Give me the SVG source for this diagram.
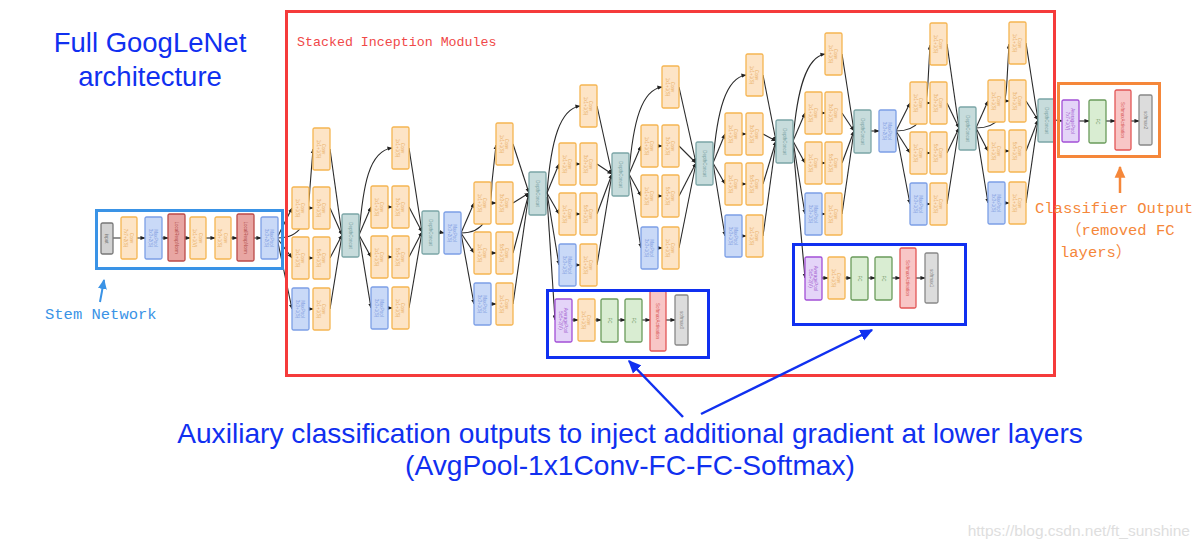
<svg xmlns="http://www.w3.org/2000/svg" xmlns:xlink="http://www.w3.org/1999/xlink" width="1200" height="550" viewBox="0 0 1200 550">
<style>
.conv{fill:#fde4c6;stroke:#f5b552;stroke-width:1.3}
.mp{fill:#c9d9f7;stroke:#7c9fe6;stroke-width:1.3}
.dc{fill:#c7dcdc;stroke:#7ba5a6;stroke-width:1.3}
.lrn{fill:#e8a6a3;stroke:#bb4a48;stroke-width:1.3}
.inp{fill:#d2d2d2;stroke:#777;stroke-width:1.3}
.avg{fill:#e4d4f8;stroke:#a24fd6;stroke-width:1.3}
.fc{fill:#d9edd2;stroke:#6a9b5b;stroke-width:1.3}
.sma{fill:#f8c6c6;stroke:#e25656;stroke-width:1.3}
.sm{fill:#dcdcdc;stroke:#888;stroke-width:1.3}
.nt{font-family:'Liberation Sans',Arial,sans-serif;font-size:4.5px;text-anchor:middle;opacity:.85}
.tconv{fill:#e5a24a}.tmp{fill:#6f90dc}.tdc{fill:#6c9899}.tlrn{fill:#a83c3a}.tinp{fill:#666}
.tavg{fill:#9344c8}.tfc{fill:#5d8c4f}.tsma{fill:#d44848}.tsm{fill:#777}
.big{font-family:'Liberation Sans',Arial,sans-serif;fill:#1030f0}
.mono{font-family:'Liberation Mono','Noto Sans CJK SC',monospace}
</style>
<defs>
<marker id="ah" viewBox="0 0 6 6" refX="5.5" refY="3" markerWidth="5" markerHeight="5" markerUnits="userSpaceOnUse" orient="auto"><path d="M0,0.5 L6,3 L0,5.5z" fill="#222"/></marker>
<marker id="ahb" viewBox="0 0 10 10" refX="9" refY="5" markerWidth="13" markerHeight="13" markerUnits="userSpaceOnUse" orient="auto"><path d="M0,0.5 L10,5 L0,9.5z" fill="#1030f0"/></marker>
<marker id="ahl" viewBox="0 0 10 10" refX="9" refY="5" markerWidth="10" markerHeight="10" markerUnits="userSpaceOnUse" orient="auto"><path d="M0,0.5 L10,5 L0,9.5z" fill="#3a93e6"/></marker>
<marker id="aho" viewBox="0 0 10 10" refX="9" refY="5" markerWidth="12" markerHeight="12" markerUnits="userSpaceOnUse" orient="auto"><path d="M0,0.5 L10,5 L0,9.5z" fill="#f5873a"/></marker>
<g id="c11"><rect class="conv" width="17" height="42" rx="1.5"/><text class="nt tconv" transform="translate(8.5,21) rotate(90)"><tspan x="0" y="-0.6">Conv</tspan><tspan x="0" y="4.6">1x1+1(S)</tspan></text></g>
<g id="c33"><rect class="conv" width="17" height="42" rx="1.5"/><text class="nt tconv" transform="translate(8.5,21) rotate(90)"><tspan x="0" y="-0.6">Conv</tspan><tspan x="0" y="4.6">3x3+1(S)</tspan></text></g>
<g id="c55"><rect class="conv" width="17" height="42" rx="1.5"/><text class="nt tconv" transform="translate(8.5,21) rotate(90)"><tspan x="0" y="-0.6">Conv</tspan><tspan x="0" y="4.6">5x5+1(S)</tspan></text></g>
<g id="c77"><rect class="conv" width="16" height="42" rx="1.5"/><text class="nt tconv" transform="translate(8,21) rotate(90)"><tspan x="0" y="-0.6">Conv</tspan><tspan x="0" y="4.6">7x7+2(S)</tspan></text></g>
<g id="c11v"><rect class="conv" width="16" height="42" rx="1.5"/><text class="nt tconv" transform="translate(8,21) rotate(90)"><tspan x="0" y="-0.6">Conv</tspan><tspan x="0" y="4.6">1x1+1(V)</tspan></text></g>
<g id="c33s"><rect class="conv" width="16" height="42" rx="1.5"/><text class="nt tconv" transform="translate(8,21) rotate(90)"><tspan x="0" y="-0.6">Conv</tspan><tspan x="0" y="4.6">3x3+1(S)</tspan></text></g>
<g id="mp1"><rect class="mp" width="17" height="42" rx="1.5"/><text class="nt tmp" transform="translate(8.5,21) rotate(90)"><tspan x="0" y="-0.6">MaxPool</tspan><tspan x="0" y="4.6">3x3+1(S)</tspan></text></g>
<g id="mp2"><rect class="mp" width="17" height="42" rx="1.5"/><text class="nt tmp" transform="translate(8.5,21) rotate(90)"><tspan x="0" y="-0.6">MaxPool</tspan><tspan x="0" y="4.6">3x3+2(S)</tspan></text></g>
<g id="dcn"><rect class="dc" width="17" height="43" rx="1.5"/><text class="nt tdc" transform="translate(8.5,21.5) rotate(90)" y="1.6">DepthConcat</text></g>
<g id="inp"><rect class="inp" width="12" height="31" rx="1.5"/><text class="nt tinp" transform="translate(6,15.5) rotate(90)" y="1.6">input</text></g>
<g id="lrn"><rect class="lrn" width="17" height="47" rx="1.5"/><text class="nt tlrn" transform="translate(8.5,23.5) rotate(90)" y="1.6">LocalRespNorm</text></g>
<g id="av5"><rect class="avg" width="17" height="43" rx="1.5"/><text class="nt tavg" transform="translate(8.5,21.5) rotate(90)"><tspan x="0" y="-0.6">AveragePool</tspan><tspan x="0" y="4.6">5x5+3(V)</tspan></text></g>
<g id="av7"><rect class="avg" width="17" height="42" rx="1.5"/><text class="nt tavg" transform="translate(8.5,21) rotate(90)"><tspan x="0" y="-0.6">AveragePool</tspan><tspan x="0" y="4.6">7x7+1(V)</tspan></text></g>
<g id="fc"><rect class="fc" width="17" height="43" rx="1.5"/><text class="nt tfc" transform="translate(8.5,21.5) rotate(90)" y="1.6">FC</text></g>
<g id="sma"><rect class="sma" width="16" height="60" rx="1.5"/><text class="nt tsma" transform="translate(8,30) rotate(90)" y="1.6">SoftmaxActivation</text></g>
<g id="sm0"><rect class="sm" width="13" height="50" rx="1.5"/><text class="nt tsm" transform="translate(6.5,25) rotate(90)" y="1.6">softmax0</text></g>
<g id="sm1"><rect class="sm" width="13" height="50" rx="1.5"/><text class="nt tsm" transform="translate(6.5,25) rotate(90)" y="1.6">softmax1</text></g>
<g id="sm2"><rect class="sm" width="13" height="50" rx="1.5"/><text class="nt tsm" transform="translate(6.5,25) rotate(90)" y="1.6">softmax2</text></g>
</defs>
<rect width="1200" height="550" fill="#ffffff"/>

<g id="connectors" fill="none" stroke="#2a2a2a" stroke-width="1.1" marker-end="url(#ah)">
<path d="M113,238 L121,238 M137,238 L145,238"/>
<path d="M161,238 L168,238"/><path d="M185,238 L190,238"/><path d="M206,238 L215,238"/><path d="M231,238 L237,238"/><path d="M254,238 L261,238"/>
<path d="M277,238 L292,208"/><path d="M277,238 L292,258"/><path d="M277,238 L292,309"/>
<path d="M277,238 C300,238 308,225 310,187 L313,149"/>
<path d="M309,208 L313,208"/><path d="M309,258 L313,258"/><path d="M309,309 L313,309"/>
<path d="M330,149 L342,235"/><path d="M330,208 L342,235"/><path d="M330,258 L342,235"/><path d="M330,309 L342,235"/>
<path d="M359,235 C363,185 369,151 392,148"/>
<path d="M359,235 L371,207"/><path d="M359,235 L371,257"/><path d="M359,235 L371,308"/>
<path d="M388,207 L392,207"/><path d="M388,257 L392,257"/><path d="M388,308 L392,308"/>
<path d="M409,148 L422,232"/><path d="M409,207 L422,232"/><path d="M409,257 L422,232"/><path d="M409,308 L422,232"/>
<path d="M439,232 L444,233"/>
<path d="M461,233 L474,203"/><path d="M461,233 L474,253"/><path d="M461,233 L474,304"/>
<path d="M461,233 C483,233 491,220 492,182 L496,145"/>
<path d="M491,203 L496,203"/><path d="M491,253 L496,253"/><path d="M491,304 L496,304"/>
<path d="M513,144 L529,193"/><path d="M513,203 L529,193"/><path d="M513,253 L529,193"/><path d="M513,304 L529,193"/>
<path d="M547,193 C551,140 560,109 580,106"/>
<path d="M547,193 L559,164"/><path d="M547,193 L559,214"/><path d="M547,193 L559,265"/>
<path d="M576,164 L580,164"/><path d="M576,214 L580,214"/><path d="M576,265 L580,265"/>
<path d="M597,106 L612,174"/><path d="M597,164 L612,174"/><path d="M597,214 L612,174"/><path d="M597,265 L612,174"/>
<path d="M547,197 L555,320"/>
<path d="M629,174 C633,120 642,90 662,87"/>
<path d="M629,174 L641,146"/><path d="M629,174 L641,196"/><path d="M629,174 L641,248"/>
<path d="M658,146 L662,146"/><path d="M658,196 L662,196"/><path d="M658,248 L662,248"/>
<path d="M679,87 L696,163"/><path d="M679,146 L696,163"/><path d="M679,196 L696,163"/><path d="M679,248 L696,163"/>
<path d="M713,163 C717,110 726,78 746,75"/>
<path d="M713,163 L725,134"/><path d="M713,163 L725,184"/><path d="M713,163 L725,236"/>
<path d="M742,134 L746,134"/><path d="M742,184 L746,184"/><path d="M742,236 L746,236"/>
<path d="M763,75 L776,141"/><path d="M763,134 L776,141"/><path d="M763,184 L776,141"/><path d="M763,236 L776,141"/>
<path d="M793,141 C797,90 806,57 825,54"/>
<path d="M793,141 L805,113"/><path d="M793,141 L805,163"/><path d="M793,141 L805,214"/>
<path d="M822,113 L825,113"/><path d="M822,163 L825,163"/><path d="M822,214 L825,214"/>
<path d="M842,54 L854,131"/><path d="M842,113 L854,131"/><path d="M842,163 L854,131"/><path d="M842,214 L854,131"/>
<path d="M793,145 L805,278"/>
<path d="M871,131 L879,131"/>
<path d="M896,131 L910,103"/><path d="M896,131 L910,153"/><path d="M896,131 L910,204"/>
<path d="M896,131 C918,131 926,120 928,82 L930,45"/>
<path d="M927,103 L930,103"/><path d="M927,153 L930,153"/><path d="M927,204 L930,204"/>
<path d="M947,44 L959,128"/><path d="M947,103 L959,128"/><path d="M947,153 L959,128"/><path d="M947,204 L959,128"/>
<path d="M976,128 L988,101"/><path d="M976,128 L988,151"/><path d="M976,128 L988,203"/>
<path d="M976,128 C998,128 1005,118 1007,80 L1009,44"/>
<path d="M1005,101 L1009,101"/><path d="M1005,151 L1009,151"/><path d="M1005,203 L1009,203"/>
<path d="M1026,43 L1038,120"/><path d="M1026,101 L1038,120"/><path d="M1026,151 L1038,120"/><path d="M1026,203 L1038,120"/>
<path d="M1055,120 L1062,121"/><path d="M1079,121 L1089,121"/><path d="M1106,121 L1115,121"/><path d="M1131,121 L1139,121"/>
<path d="M572,320 L578,320"/><path d="M595,320 L601,320"/><path d="M618,320 L625,320"/><path d="M642,320 L650,320"/><path d="M666,320 L675,320"/>
<path d="M822,278 L828,278"/><path d="M845,278 L851,278"/><path d="M868,278 L875,278"/><path d="M892,278 L900,278"/><path d="M916,278 L925,278"/>
</g>

<g id="stem-input" transform="translate(101,223)"><use href="#inp"/></g>
<g id="stem-conv1" transform="translate(121,217)"><use href="#c77"/></g>
<g id="stem-pool1" transform="translate(145,217)"><use href="#mp2"/></g>
<g id="stem-lrn1" transform="translate(168,214)"><use href="#lrn"/></g>
<g id="stem-conv2" transform="translate(190,217)"><use href="#c11v"/></g>
<g id="stem-conv3" transform="translate(215,217)"><use href="#c33s"/></g>
<g id="stem-lrn2" transform="translate(237,214)"><use href="#lrn"/></g>
<g id="stem-pool2" transform="translate(261,217)"><use href="#mp2"/></g>

<g id="m1-top" transform="translate(313,128)"><use href="#c11"/></g>
<g id="m1-a2" transform="translate(292,187)"><use href="#c11"/></g>
<g id="m1-b2" transform="translate(313,187)"><use href="#c33"/></g>
<g id="m1-a3" transform="translate(292,237)"><use href="#c11"/></g>
<g id="m1-b3" transform="translate(313,237)"><use href="#c55"/></g>
<g id="m1-a4" transform="translate(292,288)"><use href="#mp1"/></g>
<g id="m1-b4" transform="translate(313,288)"><use href="#c11"/></g>
<g id="m1-dc" transform="translate(342,214)"><use href="#dcn"/></g>

<g id="m2-top" transform="translate(392,127)"><use href="#c11"/></g>
<g id="m2-a2" transform="translate(371,186)"><use href="#c11"/></g>
<g id="m2-b2" transform="translate(392,186)"><use href="#c33"/></g>
<g id="m2-a3" transform="translate(371,236)"><use href="#c11"/></g>
<g id="m2-b3" transform="translate(392,236)"><use href="#c55"/></g>
<g id="m2-a4" transform="translate(371,287)"><use href="#mp1"/></g>
<g id="m2-b4" transform="translate(392,287)"><use href="#c11"/></g>
<g id="m2-dc" transform="translate(422,211)"><use href="#dcn"/></g>
<g id="pool3" transform="translate(444,212)"><use href="#mp2"/></g>

<g id="m3-top" transform="translate(496,123)"><use href="#c11"/></g>
<g id="m3-a2" transform="translate(474,182)"><use href="#c11"/></g>
<g id="m3-b2" transform="translate(496,182)"><use href="#c33"/></g>
<g id="m3-a3" transform="translate(474,232)"><use href="#c11"/></g>
<g id="m3-b3" transform="translate(496,232)"><use href="#c55"/></g>
<g id="m3-a4" transform="translate(474,283)"><use href="#mp1"/></g>
<g id="m3-b4" transform="translate(496,283)"><use href="#c11"/></g>
<g id="m3-dc" transform="translate(529,172)"><use href="#dcn"/></g>

<g id="m4-top" transform="translate(580,85)"><use href="#c11"/></g>
<g id="m4-a2" transform="translate(559,143)"><use href="#c11"/></g>
<g id="m4-b2" transform="translate(580,143)"><use href="#c33"/></g>
<g id="m4-a3" transform="translate(559,193)"><use href="#c11"/></g>
<g id="m4-b3" transform="translate(580,193)"><use href="#c55"/></g>
<g id="m4-a4" transform="translate(559,244)"><use href="#mp1"/></g>
<g id="m4-b4" transform="translate(580,244)"><use href="#c11"/></g>
<g id="m4-dc" transform="translate(612,153)"><use href="#dcn"/></g>

<g id="m5-top" transform="translate(662,66)"><use href="#c11"/></g>
<g id="m5-a2" transform="translate(641,125)"><use href="#c11"/></g>
<g id="m5-b2" transform="translate(662,125)"><use href="#c33"/></g>
<g id="m5-a3" transform="translate(641,175)"><use href="#c11"/></g>
<g id="m5-b3" transform="translate(662,175)"><use href="#c55"/></g>
<g id="m5-a4" transform="translate(641,227)"><use href="#mp1"/></g>
<g id="m5-b4" transform="translate(662,227)"><use href="#c11"/></g>
<g id="m5-dc" transform="translate(696,142)"><use href="#dcn"/></g>

<g id="m6-top" transform="translate(746,54)"><use href="#c11"/></g>
<g id="m6-a2" transform="translate(725,113)"><use href="#c11"/></g>
<g id="m6-b2" transform="translate(746,113)"><use href="#c33"/></g>
<g id="m6-a3" transform="translate(725,163)"><use href="#c11"/></g>
<g id="m6-b3" transform="translate(746,163)"><use href="#c55"/></g>
<g id="m6-a4" transform="translate(725,215)"><use href="#mp1"/></g>
<g id="m6-b4" transform="translate(746,215)"><use href="#c11"/></g>
<g id="m6-dc" transform="translate(776,120)"><use href="#dcn"/></g>

<g id="m7-top" transform="translate(825,33)"><use href="#c11"/></g>
<g id="m7-a2" transform="translate(805,92)"><use href="#c11"/></g>
<g id="m7-b2" transform="translate(825,92)"><use href="#c33"/></g>
<g id="m7-a3" transform="translate(805,142)"><use href="#c11"/></g>
<g id="m7-b3" transform="translate(825,142)"><use href="#c55"/></g>
<g id="m7-a4" transform="translate(805,193)"><use href="#mp1"/></g>
<g id="m7-b4" transform="translate(825,193)"><use href="#c11"/></g>
<g id="m7-dc" transform="translate(854,110)"><use href="#dcn"/></g>
<g id="pool4" transform="translate(879,110)"><use href="#mp2"/></g>

<g id="m8-top" transform="translate(930,23)"><use href="#c11"/></g>
<g id="m8-a2" transform="translate(910,82)"><use href="#c11"/></g>
<g id="m8-b2" transform="translate(930,82)"><use href="#c33"/></g>
<g id="m8-a3" transform="translate(910,132)"><use href="#c11"/></g>
<g id="m8-b3" transform="translate(930,132)"><use href="#c55"/></g>
<g id="m8-a4" transform="translate(910,183)"><use href="#mp1"/></g>
<g id="m8-b4" transform="translate(930,183)"><use href="#c11"/></g>
<g id="m8-dc" transform="translate(959,107)"><use href="#dcn"/></g>

<g id="m9-top" transform="translate(1009,22)"><use href="#c11"/></g>
<g id="m9-a2" transform="translate(988,80)"><use href="#c11"/></g>
<g id="m9-b2" transform="translate(1009,80)"><use href="#c33"/></g>
<g id="m9-a3" transform="translate(988,130)"><use href="#c11"/></g>
<g id="m9-b3" transform="translate(1009,130)"><use href="#c55"/></g>
<g id="m9-a4" transform="translate(988,182)"><use href="#mp1"/></g>
<g id="m9-b4" transform="translate(1009,182)"><use href="#c11"/></g>
<g id="m9-dc" transform="translate(1038,99)"><use href="#dcn"/></g>

<g id="cls-avg" transform="translate(1062,100)"><use href="#av7"/></g>
<g id="cls-fc" transform="translate(1089,100)"><use href="#fc"/></g>
<g id="cls-sma" transform="translate(1115,90)"><use href="#sma"/></g>
<g id="cls-sm" transform="translate(1139,95)"><use href="#sm2"/></g>

<g id="aux1-avg" transform="translate(555,299)"><use href="#av5"/></g>
<g id="aux1-conv" transform="translate(578,299)"><use href="#c11"/></g>
<g id="aux1-fc1" transform="translate(601,299)"><use href="#fc"/></g>
<g id="aux1-fc2" transform="translate(625,299)"><use href="#fc"/></g>
<g id="aux1-sma" transform="translate(650,291)"><use href="#sma"/></g>
<g id="aux1-sm" transform="translate(675,295)"><use href="#sm0"/></g>

<g id="aux2-avg" transform="translate(805,257)"><use href="#av5"/></g>
<g id="aux2-conv" transform="translate(828,257)"><use href="#c11"/></g>
<g id="aux2-fc1" transform="translate(851,257)"><use href="#fc"/></g>
<g id="aux2-fc2" transform="translate(875,257)"><use href="#fc"/></g>
<g id="aux2-sma" transform="translate(900,248)"><use href="#sma"/></g>
<g id="aux2-sm" transform="translate(925,253)"><use href="#sm1"/></g>

<g id="frames" fill="none" stroke-width="3">
<rect x="286.5" y="11.5" width="768" height="364" stroke="#f53b3b"/>
<rect x="96.5" y="210.5" width="186" height="58" stroke="#3a93e6"/>
<rect x="1058.5" y="83.5" width="101" height="73" stroke="#f5873a"/>
<rect x="547.5" y="290.5" width="161" height="67" stroke="#1030f0"/>
<rect x="793.5" y="244.5" width="172" height="80" stroke="#1030f0"/>
</g>

<g id="callouts" fill="none">
<path d="M100,302 L104,280" stroke="#3a93e6" stroke-width="2" marker-end="url(#ahl)"/>
<path d="M1120,193 L1120,167" stroke="#f5873a" stroke-width="2.5" marker-end="url(#aho)"/>
<path d="M683,417 L629,361" stroke="#1030f0" stroke-width="2.5" marker-end="url(#ahb)"/>
<path d="M701,414 L872,330" stroke="#1030f0" stroke-width="2.5" marker-end="url(#ahb)"/>
</g>

<g id="labels">
<text class="big" x="150" y="52" font-size="27.5" text-anchor="middle">Full GoogLeNet</text>
<text class="big" x="150" y="86" font-size="27.5" text-anchor="middle">architecture</text>
<text class="mono" x="297" y="46" font-size="13.3" fill="#f04848">Stacked Inception Modules</text>
<text class="mono" x="45" y="319" font-size="15.5" fill="#3a93e6">Stem Network</text>
<text class="mono" x="1035" y="213" font-size="15.5" fill="#f5873a">Classifier Output</text>
<text class="mono" x="1066" y="235" font-size="15.5" fill="#f5873a">（removed FC</text>
<text class="mono" x="1060" y="257" font-size="15.5" fill="#f5873a">layers）</text>
<text class="big" x="630" y="443" font-size="28.15" text-anchor="middle">Auxiliary classification outputs to inject additional gradient at lower layers</text>
<text class="big" x="630" y="475" font-size="28.15" text-anchor="middle">(AvgPool-1x1Conv-FC-FC-Softmax)</text>
<text x="1190" y="536" font-family="'Liberation Sans',Arial,sans-serif" font-size="15.5" fill="#dedede" text-anchor="end">https://blog.csdn.net/ft_sunshine</text>
</g>
</svg>
